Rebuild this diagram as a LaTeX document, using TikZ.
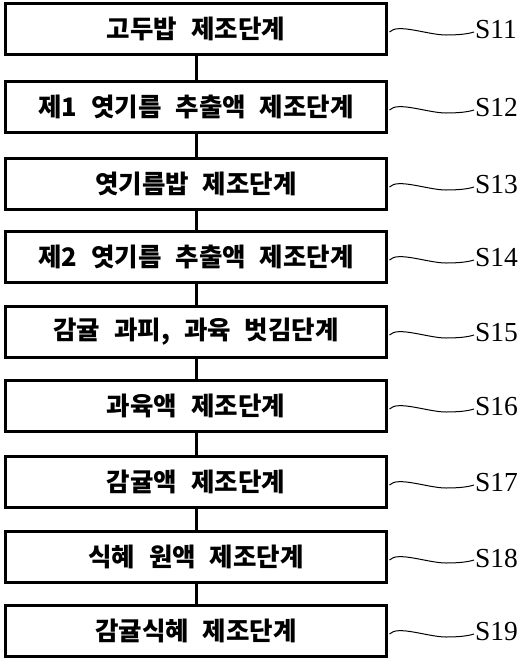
\documentclass[tikz,border=0pt]{standalone}
\usepackage{fontspec}
\setmainfont{Liberation Serif}
\newfontfamily\kr{Noto Sans CJK KR}
\newcommand{\gp}{\hspace{14pt}}
\begin{document}
\begin{tikzpicture}[x=1pt,y=-1pt,
  stepbox/.style={draw,line width=3pt,minimum width=381pt,minimum height=51pt,inner sep=0pt,
    font=\kr\bfseries\fontsize{25.5}{29}\selectfont},
  lbl/.style={font=\fontsize{27.5}{31}\selectfont,anchor=west,inner sep=0pt},
  conn/.style={line width=3pt},
  wave/.style={line width=1pt}]
\useasboundingbox (0,0) rectangle (531,665);
\foreach \i/\y/\t/\s in {
  1/29/{고두밥\gp 제조단계}/S11,
  2/107/{제1\gp 엿기름\gp 추출액\gp 제조단계}/S12,
  3/184/{엿기름밥\gp 제조단계}/S13,
  4/257/{제2\gp 엿기름\gp 추출액\gp 제조단계}/S14,
  5/332/{감귤\gp 과피,\gp 과육\gp 벗김단계}/S15,
  6/406/{과육액\gp 제조단계}/S16,
  7/482/{감귤액\gp 제조단계}/S17,
  8/557/{식혜\gp 원액\gp 제조단계}/S18,
  9/631/{감귤식혜\gp 제조단계}/S19}{
  \node[stepbox] (b\i) at (196,\y) {\t};
  \node[lbl] (l\i) at (475,\y+1) {\s};
  \draw[wave] ([xshift=1.5pt,yshift=-3pt]b\i.east) .. controls +(8,-9) and +(-18,0) .. ([shift={(58,6)}]b\i.east)
     .. controls +(12,0) and +(-6,2) .. ([xshift=-1pt,yshift=-2pt]l\i.west);
}
\foreach \a/\b in {1/2,2/3,3/4,4/5,5/6,6/7,7/8,8/9}{
  \draw[conn] (b\a.south) -- (b\b.north);
}
\end{tikzpicture}
\end{document}
